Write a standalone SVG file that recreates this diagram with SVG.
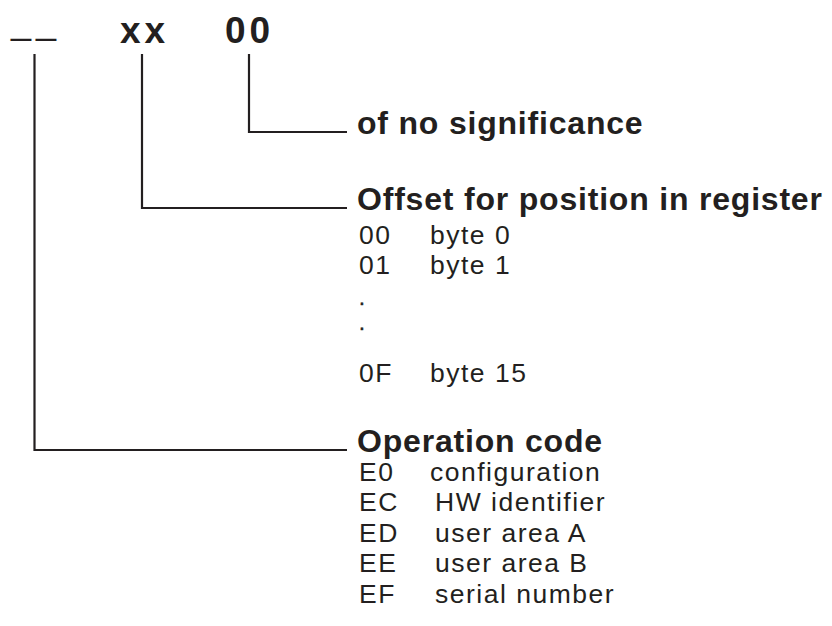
<svg xmlns="http://www.w3.org/2000/svg" width="832" height="626" viewBox="0 0 832 626">
  <style>
    text { fill: #231f20; font-family: "Liberation Sans", Arial, Helvetica, sans-serif; }
    .hdr { font-size: 37px; font-weight: bold; letter-spacing: 4px; }
    .dash { font-size: 36px; letter-spacing: 5px; }
    .ttl { font-size: 32px; font-weight: bold; letter-spacing: 0.8px; }
    .itm { font-size: 26.5px; letter-spacing: 1.5px; }
    .dot { font-size: 21px; stroke: #231f20; stroke-width: 0.5px; }
    .conn { fill: none; stroke: #231f20; stroke-width: 2.2; }
  </style>
  <rect width="832" height="626" fill="#ffffff"/>

  <g id="connectors">
    <path class="conn" d="M249,54 V132 H347"/>
    <path class="conn" d="M142,54 V208 H347"/>
    <path class="conn" d="M34.5,54 V450 H347"/>
  </g>

  <g id="field-opcode">
    <text class="dash" x="11" y="33.5">__</text>
  </g>
  <g id="field-offset">
    <text class="hdr" x="120" y="43">xx</text>
  </g>
  <g id="field-zero">
    <text class="hdr" x="225" y="43">00</text>
  </g>

  <g id="desc-zero">
    <text class="ttl" x="357" y="134">of no significance</text>
  </g>

  <g id="desc-offset">
    <text class="ttl" x="357" y="210">Offset for position in register</text>
    <text class="itm" x="359" y="244">00</text><text class="itm" x="430" y="244">byte 0</text>
    <text class="itm" x="359" y="274">01</text><text class="itm" x="430" y="274">byte 1</text>
    <text class="dot" x="359" y="305">.</text>
    <text class="dot" x="359" y="330">.</text>
    <text class="itm" x="359" y="382">0F</text><text class="itm" x="430" y="382">byte 15</text>
  </g>

  <g id="desc-opcode">
    <text class="ttl" x="357" y="452">Operation code</text>
    <text class="itm" x="359" y="481">E0</text><text class="itm" x="430" y="481">configuration</text>
    <text class="itm" x="359" y="511">EC</text><text class="itm" x="435" y="511">HW identifier</text>
    <text class="itm" x="359" y="542">ED</text><text class="itm" x="435" y="542">user area A</text>
    <text class="itm" x="359" y="572">EE</text><text class="itm" x="435" y="572">user area B</text>
    <text class="itm" x="359" y="603">EF</text><text class="itm" x="435" y="603">serial number</text>
  </g>
</svg>
